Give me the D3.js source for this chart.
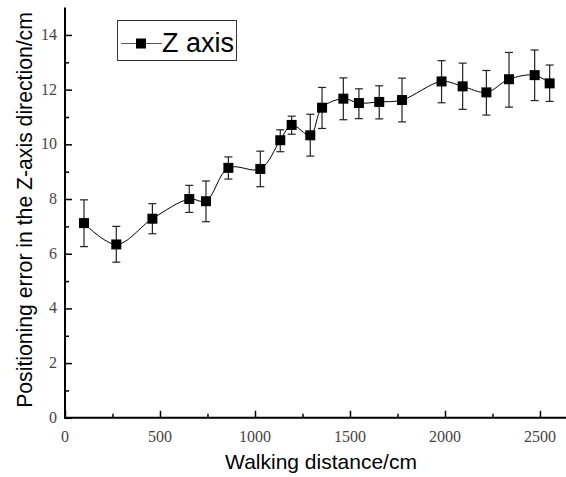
<!DOCTYPE html>
<html lang="en">
<head>
<meta charset="UTF-8">
<title>Z-axis positioning error</title>
<script src="https://cdn.jsdelivr.net/npm/d3@7/dist/d3.min.js"></script>
<style>
  html, body { margin: 0; padding: 0; background: #fff; }
  svg { display: block; }
</style>
</head>
<body>
<div id="chart"></div>
<script>
// walking distance (cm)
const distance = [100, 270, 460, 654, 742, 860, 1028, 1133, 1193, 1291, 1353,
                  1465, 1547, 1654, 1774, 1982, 2093, 2218, 2337, 2472, 2551];
// mean error (cm)
const errorMean = [7.12, 6.34, 7.28, 8.0, 7.92, 9.14, 9.1, 10.15, 10.71, 10.33, 11.34,
                   11.67, 11.51, 11.55, 11.62, 12.3, 12.12, 11.9, 12.38, 12.53, 12.23];
// error bar ends
const errorHigh = [7.97, 7.0, 7.83, 8.5, 8.66, 9.54, 9.75, 10.53, 11.03, 11.1, 12.08,
                   12.43, 12.03, 12.14, 12.42, 13.06, 12.97, 12.7, 13.36, 13.45, 12.9];
const errorLow = [6.26, 5.69, 6.73, 7.51, 7.17, 8.73, 8.45, 9.73, 10.37, 9.57, 10.58,
                  10.9, 10.94, 10.93, 10.82, 11.52, 11.28, 11.07, 11.36, 11.6, 11.57];

const xTicks = [0, 500, 1000, 1500, 2000, 2500];
const yTicks = [0, 2, 4, 6, 8, 10, 12, 14];
const seriesName = "Z axis";

const W = 566, H = 477;
const plotL = 65, plotR = 566, plotT = 7.6, plotB = 417.8;

const svg = d3.select("#chart").append("svg")
    .attr("width", W).attr("height", H);

const x = d3.scaleLinear().domain([0, 2637]).range([plotL, plotR]);
const y = d3.scaleLinear().domain([0, 15]).range([plotB, plotT]);

const data = distance.map((d, i) => ({
    x: d, y: errorMean[i], hi: errorHigh[i], lo: errorLow[i]
}));

const tickFont = "'Liberation Serif', 'DejaVu Serif', serif";
const titleFont = "'Liberation Sans', Arial, sans-serif";

// x axis (ticks point inward)
const gx = svg.append("g").attr("transform", `translate(0,${plotB})`)
    .call(d3.axisBottom(x).tickValues(d3.range(0, 2637, 250))
        .tickSize(0).tickFormat(""));
gx.select(".domain").remove();
gx.selectAll(".tick line")
    .attr("y2", d => d % 500 === 0 ? -7 : -4)
    .attr("stroke", "#000").attr("stroke-width", 1.5);
gx.append("line").attr("x1", plotL - 1).attr("x2", plotR)
    .attr("stroke", "#000").attr("stroke-width", 2);
svg.append("g").selectAll("text").data(xTicks).join("text")
    .attr("x", d => x(d)).attr("y", plotB + 24)
    .attr("text-anchor", "middle")
    .attr("font-family", tickFont).attr("font-size", 16).attr("fill", "#444")
    .text(d => d);

// y axis
const gy = svg.append("g").attr("transform", `translate(${plotL},0)`)
    .call(d3.axisLeft(y).tickValues(d3.range(0, 15, 1))
        .tickSize(0).tickFormat(""));
gy.select(".domain").remove();
gy.selectAll(".tick line")
    .attr("x2", d => d % 2 === 0 ? 7 : 4)
    .attr("stroke", "#000").attr("stroke-width", 1.5);
gy.append("line").attr("y1", plotT).attr("y2", plotB + 1)
    .attr("stroke", "#000").attr("stroke-width", 2);
svg.append("g").selectAll("text").data(yTicks).join("text")
    .attr("x", plotL - 8).attr("y", d => y(d) + 5)
    .attr("text-anchor", "end")
    .attr("font-family", tickFont).attr("font-size", 16).attr("fill", "#444")
    .text(d => d);

// axis titles
svg.append("text")
    .attr("x", 321).attr("y", 469)
    .attr("text-anchor", "middle")
    .attr("font-family", titleFont).attr("font-size", 21)
    .text("Walking distance/cm");
svg.append("text")
    .attr("transform", `translate(32,210) rotate(-90)`)
    .attr("text-anchor", "middle")
    .attr("font-family", titleFont).attr("font-size", 21.2)
    .text("Positioning error in the Z-axis direction/cm");

// error bars
const eb = svg.append("g").attr("stroke", "#222").attr("stroke-width", 1.2);
eb.selectAll("line.v").data(data).join("line").attr("class", "v")
    .attr("x1", d => x(d.x)).attr("x2", d => x(d.x))
    .attr("y1", d => y(d.hi)).attr("y2", d => y(d.lo));
eb.selectAll("line.h").data(data).join("line").attr("class", "h")
    .attr("x1", d => x(d.x) - 4).attr("x2", d => x(d.x) + 4)
    .attr("y1", d => y(d.hi)).attr("y2", d => y(d.hi));
eb.selectAll("line.l").data(data).join("line").attr("class", "l")
    .attr("x1", d => x(d.x) - 4).attr("x2", d => x(d.x) + 4)
    .attr("y1", d => y(d.lo)).attr("y2", d => y(d.lo));

// smooth line
const line = d3.line().x(d => x(d.x)).y(d => y(d.y))
    .curve(d3.curveCatmullRom.alpha(0.5));
svg.append("path").datum(data)
    .attr("d", line)
    .attr("fill", "none").attr("stroke", "#000").attr("stroke-width", 1);

// markers
const ms = 10;
svg.append("g").selectAll("rect").data(data).join("rect")
    .attr("x", d => x(d.x) - ms / 2).attr("y", d => y(d.y) - ms / 2)
    .attr("width", ms).attr("height", ms).attr("fill", "#000");

// legend
const lg = svg.append("g");
lg.append("rect").attr("x", 117.5).attr("y", 20.5).attr("width", 119).attr("height", 40)
    .attr("fill", "#fff").attr("stroke", "#333").attr("stroke-width", 1);
lg.append("line").attr("x1", 121).attr("x2", 162).attr("y1", 43.5).attr("y2", 43.5)
    .attr("stroke", "#555").attr("stroke-width", 1);
lg.append("rect").attr("x", 141 - ms / 2).attr("y", 43.5 - ms / 2)
    .attr("width", ms).attr("height", ms).attr("fill", "#000");
lg.append("text").attr("x", 162).attr("y", 52)
    .attr("font-family", titleFont).attr("font-size", 27)
    .text(seriesName);
</script>
</body>
</html>
